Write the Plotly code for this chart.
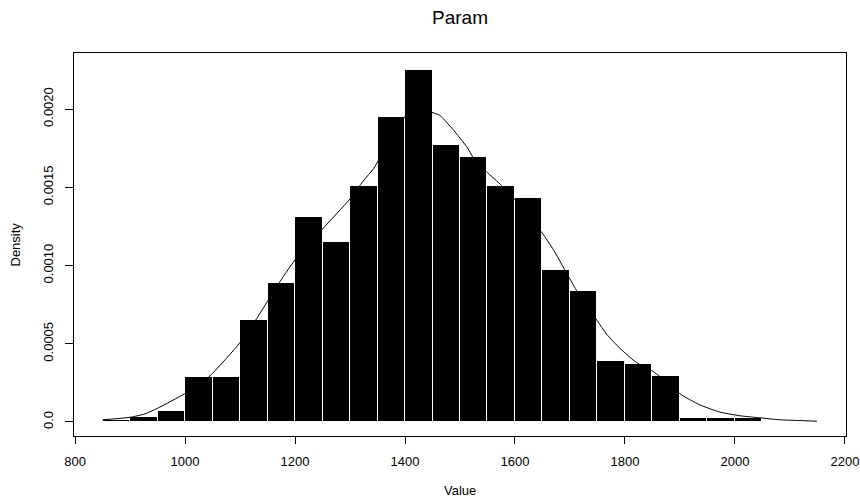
import plotly.graph_objects as go

# ---- data ----
bin_edges = [850, 900, 950, 1000, 1050, 1100, 1150, 1200, 1250, 1300, 1350, 1400, 1450,
             1500, 1550, 1600, 1650, 1700, 1750, 1800, 1850, 1900, 1950, 2000, 2050]
densities = [0.0000135, 0.00003, 0.000073, 0.000286, 0.000286, 0.000649, 0.000889, 0.001313,
             0.001149, 0.001511, 0.001948, 0.002252, 0.001771, 0.001692, 0.001511, 0.001433,
             0.000973, 0.000834, 0.000393, 0.000372, 0.000297, 0.000027, 0.000027, 0.000027]

curve_x = [850, 900, 927, 950, 1000, 1042, 1103, 1130, 1155, 1173, 1203, 1249, 1300, 1324,
           1343, 1353, 1402, 1425, 1448, 1463, 1487, 1512, 1524, 1548, 1576, 1610, 1649, 1670,
           1691, 1712, 1749, 1767, 1791, 1821, 1848, 1875, 1900, 1936, 1973, 2009, 2045, 2082,
           2112, 2149]
curve_y = [0.000014, 0.00003, 0.000052, 0.000088, 0.000182, 0.000284, 0.00052, 0.00066, 0.0008,
           0.0009, 0.00105, 0.00123, 0.001426, 0.00154, 0.00162, 0.00168, 0.00196, 0.002, 0.00198,
           0.00196, 0.00187, 0.00176, 0.00169, 0.0016, 0.00151, 0.00138, 0.00121, 0.0011, 0.00097,
           0.00084, 0.00065, 0.00056, 0.00047, 0.00038, 0.00033, 0.00026, 0.00018, 0.00011,
           0.000063, 0.00004, 0.000027, 0.000014, 0.00001, 0.000005]

x_ticks = [800, 1000, 1200, 1400, 1600, 1800, 2000, 2200]
y_ticks = [0.0, 0.0005, 0.0010, 0.0015, 0.0020]
y_tick_text = ["0.0", "0.0005", "0.0010", "0.0015", "0.0020"]

centers = [(a + b) / 2 for a, b in zip(bin_edges[:-1], bin_edges[1:])]
widths = [b - a for a, b in zip(bin_edges[:-1], bin_edges[1:])]

FONT = "Liberation Sans, Arial, Helvetica, sans-serif"

fig = go.Figure()
fig.add_trace(go.Bar(x=centers, y=densities, width=widths,
                     marker=dict(color="black", line=dict(color="white", width=1)),
                     showlegend=False, hoverinfo="skip"))
fig.add_trace(go.Scatter(x=curve_x, y=curve_y, mode="lines",
                         line=dict(color="black", width=1, shape="spline", smoothing=0.6),
                         showlegend=False, hoverinfo="skip"))

fig.update_layout(
    width=860, height=503,
    margin=dict(l=74, r=14, t=53, b=67),
    paper_bgcolor="white", plot_bgcolor="white",
    font=dict(family=FONT, size=13, color="black"),
    bargap=0,
    title=dict(text="Param", x=0.5, xref="paper", xanchor="center",
               y=1, yref="container", yanchor="top", pad=dict(t=11),
               font=dict(family=FONT, size=19, color="black")),
    xaxis=dict(range=[798, 2202], tickvals=x_ticks, ticks="outside", ticklen=7,
               tickcolor="black", showline=True, linecolor="black", linewidth=1,
               mirror=True, showgrid=False, zeroline=False, automargin=False,
               ticklabelstandoff=6,
               tickfont=dict(family=FONT, size=13)),
    yaxis=dict(range=[-0.0000895, 0.002358], tickvals=y_ticks, ticktext=y_tick_text,
               tickangle=-90, ticks="outside", ticklen=8, tickcolor="black",
               showline=True, linecolor="black", linewidth=1, mirror=True,
               showgrid=False, zeroline=False, automargin=False, ticklabelstandoff=7,
               tickfont=dict(family=FONT, size=13)),
    annotations=[
        dict(text="Value", x=0.5, xref="paper", y=0, yref="paper", yanchor="middle",
             xanchor="center", yshift=-54, showarrow=False, font=dict(family=FONT, size=13)),
        dict(text="Density", x=0, xref="paper", y=0.5, yref="paper", xanchor="center",
             yanchor="middle", xshift=-59, textangle=-90, showarrow=False,
             font=dict(family=FONT, size=13)),
    ],
)

fig.write_html("out.html")
